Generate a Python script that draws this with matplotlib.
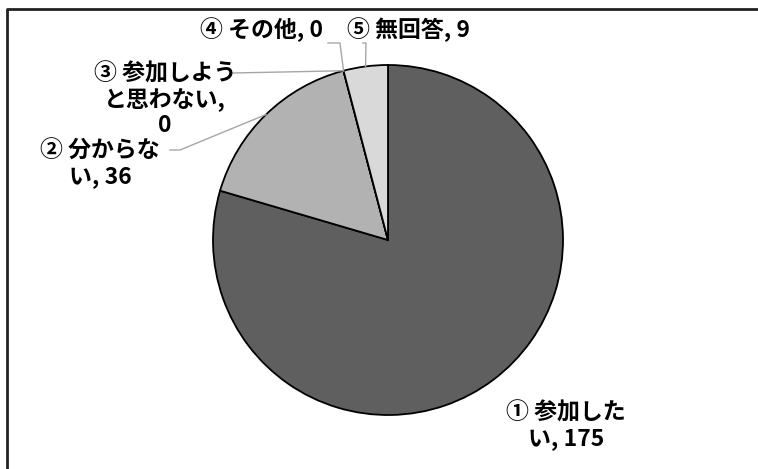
import matplotlib.pyplot as plt
import numpy as np

plt.rcParams['font.family'] = ['Noto Sans CJK JP', 'DejaVu Sans']

# =========================
# DATA
# =========================
labels = ["① 参加した\nい, 175", "② 分からな\nい, 36", "③ 参加しよう\nと思わない,\n0",
          "④ その他, 0", "⑤ 無回答, 9"]
values = [175, 36, 0, 0, 9]
colors = ["#5f5f5f", "#b2b2b2", "#8c8c8c", "#7f7f7f", "#d9d9d9"]

W, H = 758, 469
CX, CY, R = 388, 240, 175   # pie centre / radius in pixels (y from top)

# label text centres (pixels, y from top) and leader line elbows
label_pos = [(566, 426), (100, 164), (165, 100), (261, 30), (408, 30)]
elbows = [None, [(170, 150), (180, 150)], [(233, 73)], [(328, 43), (340, 43)],
          [(363, 43), (366, 43)]]


def py(y):
    return H - y


fig = plt.figure(figsize=(W / 100, H / 100), dpi=100)
ax = fig.add_axes([0, 0, 1, 1])

wedges, _ = ax.pie(values, colors=colors, startangle=90, counterclock=False,
                   center=(CX, py(CY)), radius=R, frame=True,
                   wedgeprops=dict(edgecolor="black", linewidth=1.3))
ax.set_xlim(0, W)
ax.set_ylim(0, H)
ax.set_aspect("equal")
ax.axis("off")

# border (only top/left visible)
ax.plot([7, 7, W + 5], [-5, py(9), py(9)], color="#222222", lw=2, clip_on=False)

for i, (lab, w) in enumerate(zip(labels, wedges)):
    tx, ty = label_pos[i]
    ax.text(tx, py(ty), lab, ha="center", va="center", fontsize=16.5,
            fontweight="bold", linespacing=1.12, color="black")
    if elbows[i] is None:
        continue
    if values[i] == 0:
        ang = np.deg2rad(w.theta1)
    else:
        ang = np.deg2rad((w.theta1 + w.theta2) / 2)
    ex = CX + R * np.cos(ang)
    ey = py(CY) + R * np.sin(ang)
    xs = [p[0] for p in elbows[i]] + [ex]
    ys = [py(p[1]) for p in elbows[i]] + [ey]
    ax.plot(xs, ys, color="#a6a6a6", lw=1)

fig.savefig("out.png", dpi=100)
